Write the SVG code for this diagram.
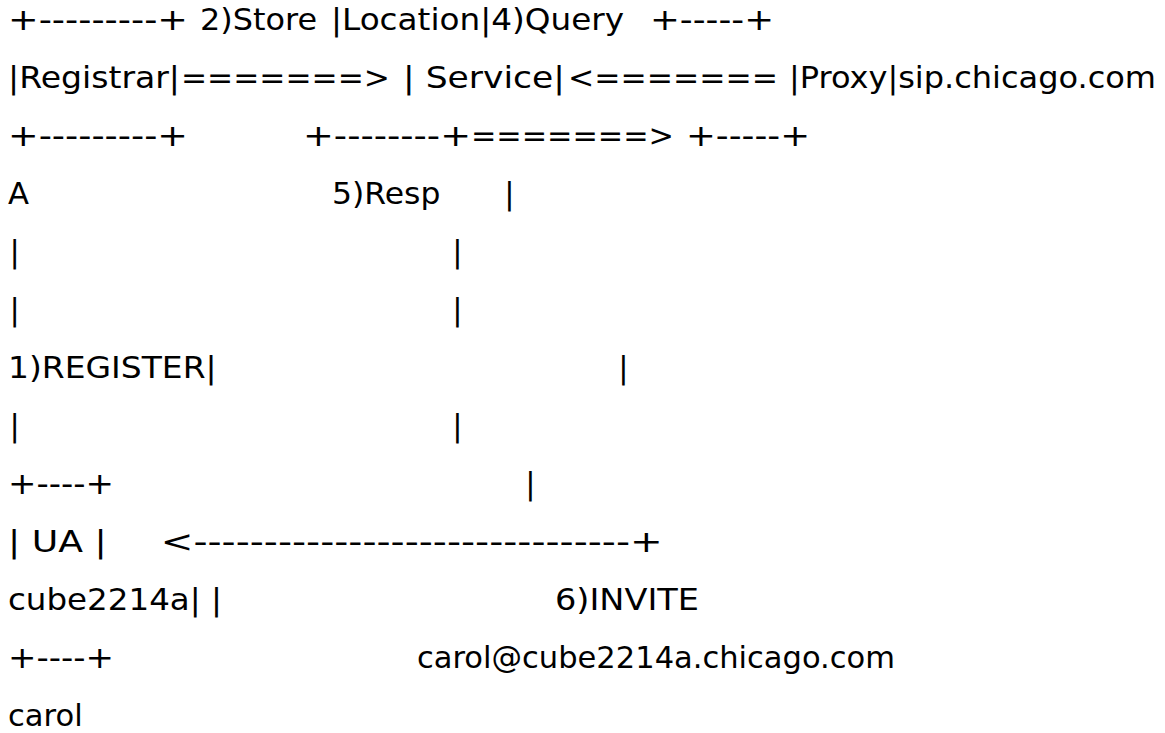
<svg xmlns="http://www.w3.org/2000/svg" width="1165" height="733" viewBox="0 0 1165 733">
<style>
.t{font-family:"DejaVu Sans","Noto Sans",Verdana,sans-serif;font-size:30.7px;fill:#000;}
</style>
<rect width="1165" height="733" fill="#ffffff"/>
<g id="registrar-row-top">
<text class="t" x="8" y="29.5" textLength="180" lengthAdjust="spacingAndGlyphs">+---------+</text>
<text class="t" x="200" y="29.5" textLength="117" lengthAdjust="spacingAndGlyphs">2)Store</text>
<text class="t" x="331" y="29.5" textLength="293" lengthAdjust="spacingAndGlyphs">|Location|4)Query</text>
<text class="t" x="650" y="29.5" textLength="124" lengthAdjust="spacingAndGlyphs">+-----+</text>
</g>
<g id="registrar-row-mid">
<text class="t" x="8" y="87.5" textLength="172" lengthAdjust="spacingAndGlyphs">|Registrar|</text>
<text class="t" x="181" y="87.5" textLength="209" lengthAdjust="spacingAndGlyphs">=======&gt;</text>
<text class="t" x="403" y="87.5" textLength="162" lengthAdjust="spacingAndGlyphs">| Service|</text>
<text class="t" x="568" y="87.5" textLength="210" lengthAdjust="spacingAndGlyphs">&lt;=======</text>
<text class="t" x="789" y="87.5" textLength="367" lengthAdjust="spacingAndGlyphs">|Proxy|sip.chicago.com</text>
</g>
<g id="registrar-row-bottom">
<text class="t" x="8" y="145.5" textLength="180" lengthAdjust="spacingAndGlyphs">+---------+</text>
<text class="t" x="303" y="145.5" textLength="168" lengthAdjust="spacingAndGlyphs">+--------+</text>
<text class="t" x="471" y="145.5" textLength="203" lengthAdjust="spacingAndGlyphs">=======&gt;</text>
<text class="t" x="686" y="145.5" textLength="124" lengthAdjust="spacingAndGlyphs">+-----+</text>
</g>
<g id="connectors">
<text class="t" x="8" y="203.5">A</text>
<text class="t" x="332" y="203.5" textLength="108.4" lengthAdjust="spacingAndGlyphs">5)Resp</text>
<text class="t" x="504.3" y="203.5">|</text>
<text class="t" x="9.5" y="261.5">|</text>
<text class="t" x="452.3" y="261.5">|</text>
<text class="t" x="9.5" y="319.5">|</text>
<text class="t" x="452.3" y="319.5">|</text>
<text class="t" x="8" y="377.5" textLength="208.7" lengthAdjust="spacingAndGlyphs">1)REGISTER|</text>
<text class="t" x="618.3" y="377.5">|</text>
<text class="t" x="9.5" y="435.5">|</text>
<text class="t" x="452.3" y="435.5">|</text>
<text class="t" x="525.3" y="493.5">|</text>
<text class="t" x="160.7" y="551.5" textLength="502" lengthAdjust="spacingAndGlyphs">&lt;-------------------------------+</text>
<text class="t" x="555" y="609.5" textLength="144" lengthAdjust="spacingAndGlyphs">6)INVITE</text>
<text class="t" x="417" y="667.5" textLength="478" lengthAdjust="spacingAndGlyphs">carol@cube2214a.chicago.com</text>
</g>
<g id="ua">
<text class="t" x="8" y="493.5" textLength="106" lengthAdjust="spacingAndGlyphs">+----+</text>
<text class="t" x="8" y="551.5" textLength="98.7" lengthAdjust="spacingAndGlyphs">| UA |</text>
<text class="t" x="8" y="609.5" textLength="214" lengthAdjust="spacingAndGlyphs">cube2214a| |</text>
<text class="t" x="8" y="667.5" textLength="106" lengthAdjust="spacingAndGlyphs">+----+</text>
<text class="t" x="8" y="725.5" textLength="74.7" lengthAdjust="spacingAndGlyphs">carol</text>
</g>
</svg>
